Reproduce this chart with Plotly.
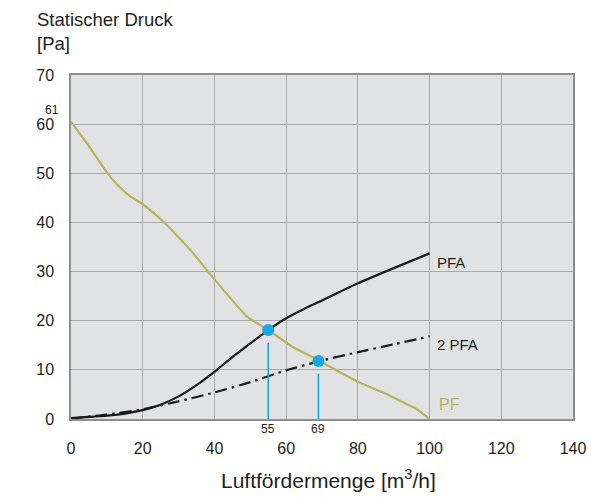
import plotly.graph_objects as go

# Data
pf_x = [0, 5, 10, 13, 16, 20, 26, 30, 34, 38, 44, 49, 55, 62, 69.5, 75, 80, 86, 88, 92, 96, 100]
pf_y = [60.5, 55.5, 50.2, 47.6, 45.6, 43.7, 40.0, 37.0, 33.8, 30.2, 25.0, 20.9, 18.1, 14.6, 11.8, 9.5, 7.6, 5.7, 5.1, 3.6, 2.2, 0]

pfa_x = [0, 10, 15, 20, 25, 30, 35, 40, 45, 50, 55, 60, 65, 70, 80, 90, 100]
pfa_y = [0.2, 0.7, 1.1, 1.8, 2.9, 4.6, 6.9, 9.6, 12.6, 15.4, 18.1, 20.5, 22.4, 24.1, 27.6, 30.7, 33.7]

pfa2_x = [0, 10, 20, 30, 40, 50, 60, 70, 80, 90, 100]
pfa2_y = [0.1, 0.9, 2.0, 3.6, 5.4, 7.5, 9.9, 11.9, 13.6, 15.2, 16.8]

op_x = [55, 69]
op_y = [18.1, 11.8]
op_labels = ["55", "69"]

x_ticks = [0, 20, 40, 60, 80, 100, 120, 140]
y_ticks = [0, 10, 20, 30, 40, 50, 60, 70]

FONT = "Liberation Sans, Arial, sans-serif"
OLIVE = "#b9b35f"
CYAN = "#1aa6e0"
TXT = "#1e1e1e"

fig = go.Figure()

fig.add_trace(go.Scatter(x=pf_x, y=pf_y, mode="lines",
                         line=dict(color=OLIVE, width=2.2, shape="spline", smoothing=0.6),
                         hoverinfo="skip"))
fig.add_trace(go.Scatter(x=pfa2_x, y=pfa2_y, mode="lines",
                         line=dict(color="#1a1a1a", width=2.2, dash="12px,5px,2.5px,5px",
                                   shape="spline", smoothing=0.6),
                         hoverinfo="skip"))
fig.add_trace(go.Scatter(x=pfa_x, y=pfa_y, mode="lines",
                         line=dict(color="#1a1a1a", width=2.2, shape="spline", smoothing=0.6),
                         hoverinfo="skip"))

# vertical drop lines below operating points
gap = 2.6
for xv, yv in zip(op_x, op_y):
    fig.add_trace(go.Scatter(x=[xv, xv], y=[0, yv - gap], mode="lines",
                             line=dict(color=CYAN, width=1.6), hoverinfo="skip"))

fig.add_trace(go.Scatter(x=op_x, y=op_y, mode="markers",
                         marker=dict(color=CYAN, size=12), hoverinfo="skip"))

annotations = [
    dict(x=-36 / 502, y=1, xref="paper", yref="paper", xanchor="left", yanchor="bottom",
         yshift=19, text="Statischer Druck<br>[Pa]", showarrow=False, align="left",
         font=dict(family=FONT, size=18.5, color=TXT)),
    dict(x=0.5, xref="paper", y=0, yref="paper", yanchor="top", yshift=-45, xshift=6,
         text="Luftfördermenge [m<sup>3</sup>/h]", showarrow=False,
         font=dict(family=FONT, size=21, color=TXT)),
    dict(x=0, xref="x", y=pf_y[0], yref="y", xshift=-19, yshift=12,
         text="61", showarrow=False, font=dict(family=FONT, size=12, color=TXT)),
    dict(x=pfa_x[-1], y=pfa_y[-1], xref="x", yref="y", xanchor="left", xshift=5, yshift=-9,
         text="PFA", showarrow=False, font=dict(family=FONT, size=15, color=TXT)),
    dict(x=pfa2_x[-1], y=pfa2_y[-1], xref="x", yref="y", xanchor="left", xshift=5, yshift=-8,
         text="2 PFA", showarrow=False, font=dict(family=FONT, size=15, color=TXT)),
    dict(x=pf_x[-1], y=pf_y[-1], xref="x", yref="y", xanchor="left", xshift=7, yshift=15,
         text="PF", showarrow=False, font=dict(family=FONT, size=16, color=OLIVE)),
]
for xv, lab in zip(op_x, op_labels):
    annotations.append(dict(x=xv, y=0, xref="x", yref="y", yanchor="top", yshift=-1,
                            text=lab, showarrow=False,
                            font=dict(family=FONT, size=12, color=TXT)))

# page body has an 8px margin; size the figure so the plot area lands where the reference has it
fig.update_layout(
    width=598, height=489,
    margin=dict(l=63, r=33, t=67, b=78),
    paper_bgcolor="white",
    plot_bgcolor="#e1e2e4",
    showlegend=False,
    font=dict(family=FONT, color=TXT),
    annotations=annotations,
)
fig.update_xaxes(range=[0, 140], tickvals=x_ticks, ticktext=[str(v) for v in x_ticks],
                 showgrid=True, gridcolor="#a9a9a9", gridwidth=1.2,
                 zeroline=False, showline=True, linecolor="#8e8e8e", linewidth=1.5, mirror=True,
                 ticks="", ticklabelstandoff=14, tickfont=dict(size=16, color=TXT))
fig.update_yaxes(range=[0, 70], tickvals=y_ticks, ticktext=[str(v) for v in y_ticks],
                 showgrid=True, gridcolor="#a9a9a9", gridwidth=1.2,
                 zeroline=False, showline=True, linecolor="#8e8e8e", linewidth=1.5, mirror=True,
                 ticks="", ticklabelstandoff=12, tickfont=dict(size=16, color=TXT))

fig.write_html("out.html")
